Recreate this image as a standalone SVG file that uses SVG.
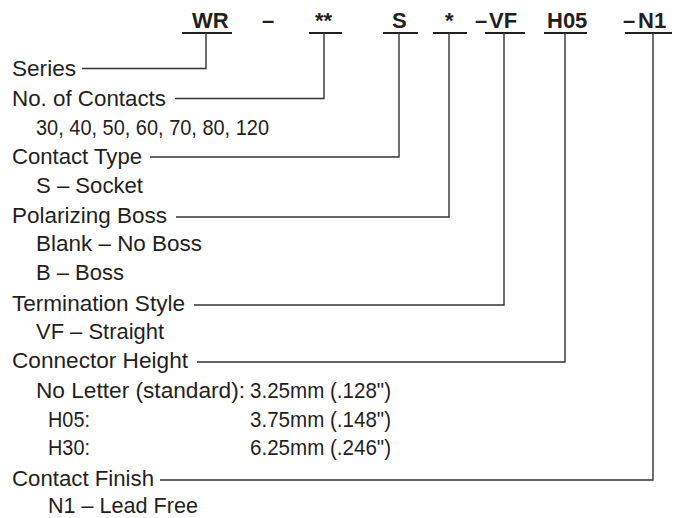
<svg xmlns="http://www.w3.org/2000/svg" width="677" height="518" viewBox="0 0 677 518">
<style>
text{font-family:"Liberation Sans",Arial,sans-serif;fill:#231f20;}
.lbl{font-size:22px;}
.code{font-size:22px;font-weight:bold;}
.ul{stroke:#231f20;stroke-width:2;fill:none;}
.con{stroke:#333;stroke-width:1.4;fill:none;}
</style>
<rect width="677" height="518" fill="#fff"/>
<g id="code">
  <text class="code" x="192" y="28">WR</text>
  <text class="code" x="262" y="28">–</text>
  <text class="code" x="315" y="28">**</text>
  <text class="code" x="392" y="28">S</text>
  <text class="code" x="445" y="28">*</text>
  <text class="code" x="475" y="28">–</text>
  <text class="code" x="489" y="28">VF</text>
  <text class="code" x="547" y="28">H05</text>
  <text class="code" x="623" y="28">–</text>
  <text class="code" x="638" y="28">N1</text>
  <path class="ul" d="M182 33H232M309 33H342M383 33H418M433 33H467M485 33H525M544 33H587M625 33H672"/>
</g>
<g id="series"><text class="lbl" x="12" y="76" textLength="64" lengthAdjust="spacingAndGlyphs">Series</text></g>
<g id="contacts">
  <text class="lbl" x="12" y="106" textLength="154" lengthAdjust="spacingAndGlyphs">No. of Contacts</text>
  <text class="lbl" x="36" y="135" textLength="233" lengthAdjust="spacingAndGlyphs">30, 40, 50, 60, 70, 80, 120</text>
</g>
<g id="contact-type">
  <text class="lbl" x="12" y="164" textLength="130" lengthAdjust="spacingAndGlyphs">Contact Type</text>
  <text class="lbl" x="36" y="193" textLength="107" lengthAdjust="spacingAndGlyphs">S – Socket</text>
</g>
<g id="polarizing">
  <text class="lbl" x="12" y="223" textLength="155" lengthAdjust="spacingAndGlyphs">Polarizing Boss</text>
  <text class="lbl" x="36" y="251" textLength="166" lengthAdjust="spacingAndGlyphs">Blank – No Boss</text>
  <text class="lbl" x="36" y="280" textLength="88" lengthAdjust="spacingAndGlyphs">B – Boss</text>
</g>
<g id="termination">
  <text class="lbl" x="12" y="311" textLength="173" lengthAdjust="spacingAndGlyphs">Termination Style</text>
  <text class="lbl" x="36" y="339" textLength="128" lengthAdjust="spacingAndGlyphs">VF – Straight</text>
</g>
<g id="height">
  <text class="lbl" x="12" y="368" textLength="176" lengthAdjust="spacingAndGlyphs">Connector Height</text>
  <text class="lbl" x="36" y="398" textLength="209" lengthAdjust="spacingAndGlyphs">No Letter (standard):</text>
  <text class="lbl" x="250" y="398" textLength="141" lengthAdjust="spacingAndGlyphs">3.25mm (.128")</text>
  <text class="lbl" x="48" y="427" textLength="42" lengthAdjust="spacingAndGlyphs">H05:</text>
  <text class="lbl" x="250" y="427" textLength="141" lengthAdjust="spacingAndGlyphs">3.75mm (.148")</text>
  <text class="lbl" x="48" y="455" textLength="42" lengthAdjust="spacingAndGlyphs">H30:</text>
  <text class="lbl" x="250" y="455" textLength="141" lengthAdjust="spacingAndGlyphs">6.25mm (.246")</text>
</g>
<g id="finish">
  <text class="lbl" x="12" y="486" textLength="142" lengthAdjust="spacingAndGlyphs">Contact Finish</text>
  <text class="lbl" x="48" y="513" textLength="150" lengthAdjust="spacingAndGlyphs">N1 – Lead Free</text>
</g>
<g id="connectors">
  <path class="con" d="M82 68.5H206V33"/>
  <path class="con" d="M175 98.5H324V33"/>
  <path class="con" d="M150 157H399V33"/>
  <path class="con" d="M176 217H449V33"/>
  <path class="con" d="M194 305H504V33"/>
  <path class="con" d="M197 362H565V33"/>
  <path class="con" d="M160 480H653V33"/>
</g>
</svg>
